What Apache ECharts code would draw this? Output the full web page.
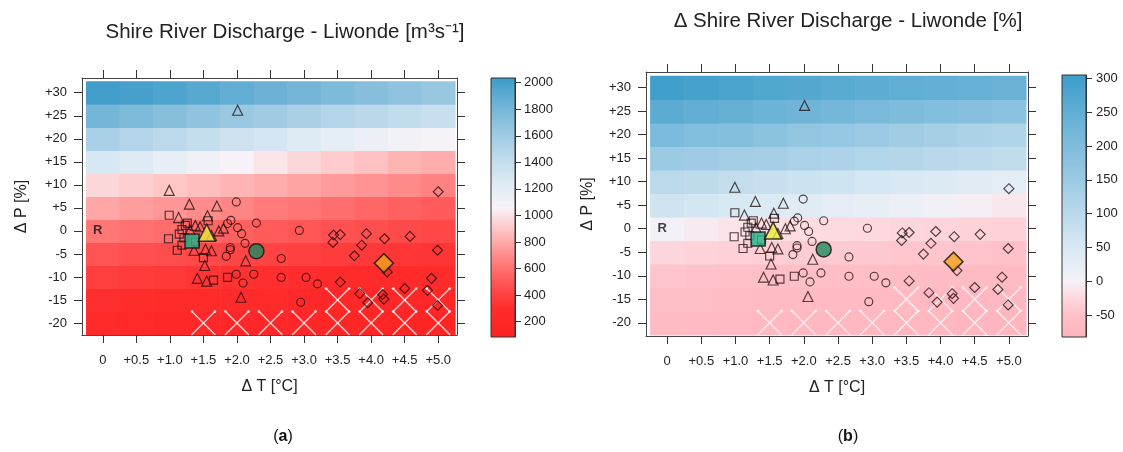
<!DOCTYPE html>
<html><head><meta charset="utf-8">
<script src="https://cdn.jsdelivr.net/npm/echarts@6/dist/echarts.min.js"></script>
<style>html,body{margin:0;padding:0;background:#fff}#c{width:1123px;height:452px}</style>
</head><body><div id="c"></div>
<script>
// ---------- axes / categories ----------
const tSteps = [0, 0.5, 1, 1.5, 2, 2.5, 3, 3.5, 4, 4.5, 5];
const pSteps = [-20, -15, -10, -5, 0, 5, 10, 15, 20, 25, 30];
const xTickLabels = ['0', '+0.5', '+1.0', '+1.5', '+2.0', '+2.5', '+3.0', '+3.5', '+4.0', '+4.5', '+5.0'];
const yTickLabels = ['-20', '-15', '-10', '-5', '0', '+5', '+10', '+15', '+20', '+25', '+30'];
const cbarTicksA = [200, 400, 600, 800, 1000, 1200, 1400, 1600, 1800, 2000];
const cbarTicksB = [-50, 0, 50, 100, 150, 200, 250, 300];

// ---------- panel (a): discharge [m3/s], one array per ΔP row, columns = ΔT ----------
const qA_p30 = [2010, 1990, 1960, 1920, 1880, 1840, 1800, 1760, 1720, 1680, 1640];
const qA_p25 = [1800, 1760, 1720, 1680, 1630, 1590, 1540, 1500, 1460, 1420, 1380];
const qA_p20 = [1550, 1500, 1450, 1400, 1340, 1290, 1240, 1190, 1140, 1100, 1070];
const qA_p15 = [1280, 1230, 1170, 1110, 1060, 1010, 960, 920, 880, 840, 810];
const qA_p10 = [960, 930, 900, 870, 840, 810, 780, 750, 720, 690, 660];
const qA_p05 = [790, 760, 730, 700, 670, 640, 615, 590, 565, 540, 520];
const qA_0   = [620, 600, 580, 560, 540, 520, 500, 480, 460, 445, 430];
const qA_m05 = [490, 470, 455, 440, 425, 410, 395, 380, 365, 350, 340];
const qA_m10 = [390, 375, 360, 345, 330, 320, 310, 300, 290, 280, 270];
const qA_m15 = [320, 305, 290, 280, 270, 260, 250, 240, 230, 220, 210];
const qA_m20 = [265, 250, 240, 230, 220, 210, 200, 190, 180, 175, 170];

// ---------- panel (b): change in discharge [%] ----------
const qB_p30 = [295, 288, 281, 274, 268, 262, 256, 250, 245, 240, 236];
const qB_p25 = [258, 250, 242, 234, 226, 218, 210, 202, 194, 186, 178];
const qB_p20 = [205, 196, 187, 178, 169, 160, 151, 142, 133, 124, 116];
const qB_p15 = [150, 144, 138, 132, 126, 120, 114, 108, 102, 96, 90];
const qB_p10 = [100, 93, 86, 79, 72, 65, 58, 51, 44, 37, 30];
const qB_p05 = [66, 59, 52, 45, 37, 29, 21, 13, 6, -2, -9];
const qB_0   = [3, -6, -13, -17, -20, -22, -24, -26, -28, -30, -32];
const qB_m05 = [-27, -30, -33, -35, -37, -39, -41, -43, -45, -47, -49];
const qB_m10 = [-46, -48, -50, -52, -54, -56, -58, -59, -61, -62, -63];
const qB_m15 = [-56, -58, -60, -62, -64, -65, -67, -68, -69, -70, -71];
const qB_m20 = [-63, -65, -67, -68, -70, -71, -72, -73, -74, -75, -76];

// hatched (crossed) cells [ΔT, ΔP]
const hatchCells = [[1.5,-20],[2.0,-20],[2.5,-20],[3.0,-20],[3.5,-20],[4.0,-20],[4.5,-20],[5.0,-20],
                    [3.5,-15],[4.0,-15],[4.5,-15],[5.0,-15]];

// ---------- scenario points [ΔT, ΔP] ----------
const squares = [[0.99,3.4],[1.23,1.2],[1.26,1.7],[1.18,0.3],[1.14,-0.7],[0.98,-1.7],[1.11,-4.2],[1.18,-3.1],
                 [1.21,-1.5],[1.38,-2.4],[1.50,-5.8],[1.57,2.2],[1.65,-10.7],[1.86,-10.1]];
const triangles = [[2.01,26.2],[0.99,8.8],[1.29,5.8],[1.70,5.4],[1.13,2.9],[1.56,3.3],[1.38,1.2],[1.45,0.9],
                   [1.30,0.2],[1.62,-1.0],[1.73,0.0],[1.80,0.6],[1.36,-4.2],[1.53,-4.0],[1.62,-4.3],
                   [1.52,-7.5],[1.41,-10.3],[1.55,-10.9],[2.13,-6.5],[2.06,-14.4]];
const circles = [[1.99,6.3],[2.29,1.7],[1.91,2.3],[1.86,1.6],[2.01,0.7],[2.07,-0.6],[2.12,-2.7],
                 [1.90,-3.6],[1.90,-4.1],[1.84,-5.5],[2.66,-6.0],[1.99,-9.4],[2.09,-11.3],[2.25,-9.4],
                 [2.66,-10.1],[3.03,-10.1],[3.20,-11.5],[2.93,0.1],[2.95,-15.5]];
const diamonds = [[5.0,8.5],[3.44,-0.9],[3.54,-0.8],[3.43,-2.5],[3.93,-0.6],[4.20,-1.7],[4.58,-1.2],
                  [3.86,-3.1],[3.75,-5.4],[4.99,-4.2],[4.24,-8.9],[3.54,-11.1],[4.90,-10.3],[4.50,-12.5],
                  [4.84,-12.9],[3.83,-13.6],[4.17,-13.8],[4.19,-14.8],[3.95,-15.6],[4.99,-16.2]];
const meanSquare = [[1.33,-2.2]];
const meanTriangle = [[1.55,-0.4]];
const meanCircle = [[2.29,-4.4]];
const meanDiamond = [[4.19,-7.0]];
const refPoint = [[0,0]];

// ---------- styling ----------
const FONT = 'Liberation Sans, Arial, Helvetica, sans-serif';
const stopsA = [[85,'#FF2222'],[300,'#FF2B2B'],[500,'#FF5656'],[700,'#FF8C8C'],[900,'#FFC6C6'],
                [1060,'#F7F3F8'],[1250,'#DCEAF4'],[1450,'#BCD9EB'],[1650,'#96C6E0'],[1850,'#6AB1D5'],[2035,'#3A9BC8']];
const stopsB = [[-82.5,'#FFB3BD'],[-50,'#FFC0C8'],[-20,'#FDDCE2'],[0,'#F4F1F7'],[50,'#D9E9F3'],
                [100,'#BAD9EB'],[150,'#9BCAE3'],[200,'#7FBCDC'],[250,'#61AED4'],[305,'#3A9DC9']];
const rangeA = [85, 2035], rangeB = [-82.5, 305];

function hex(h){return [parseInt(h.slice(1,3),16),parseInt(h.slice(3,5),16),parseInt(h.slice(5,7),16)];}
function colorAt(stops, v){
  if (v <= stops[0][0]) return stops[0][1];
  for (let i = 1; i < stops.length; i++) {
    if (v <= stops[i][0]) {
      const f = (v - stops[i-1][0]) / (stops[i][0] - stops[i-1][0]);
      const a = hex(stops[i-1][1]), b = hex(stops[i][1]);
      return 'rgb(' + a.map((c,k)=>Math.round(c + (b[k]-c)*f)).join(',') + ')';
    }
  }
  return stops[stops.length-1][1];
}
function colorList(stops, r){ const out=[]; const n=120; for(let i=0;i<n;i++){out.push(colorAt(stops, r[0]+(r[1]-r[0])*i/(n-1)));} return out; }
function gradient(stops, r){
  return new echarts.graphic.LinearGradient(0,1,0,0, stops.map(s=>({offset:(s[0]-r[0])/(r[1]-r[0]), color:s[1]})));
}

function cellData(rows){
  const out=[];
  rows.forEach((row,i)=>row.forEach((v,j)=>out.push([tSteps[j], pSteps[i], v])));
  return out;
}
const cellsA = cellData([qA_m20,qA_m15,qA_m10,qA_m05,qA_0,qA_p05,qA_p10,qA_p15,qA_p20,qA_p25,qA_p30]);
const cellsB = cellData([qB_m20,qB_m15,qB_m10,qB_m05,qB_0,qB_p05,qB_p10,qB_p15,qB_p20,qB_p25,qB_p30]);

function cellItem(params, api){
  const t=api.value(0), p=api.value(1);
  const a=api.coord([t-0.25, p+2.5]), b=api.coord([t+0.25, p-2.5]);
  return {type:'rect', shape:{x:a[0], y:a[1], width:b[0]-a[0]+0.6, height:b[1]-a[1]+0.6},
          style:{fill: api.visual('color')}};
}
// square 45-degree cross centred in the cell, as tall as the cell
function hatchItem(params, api){
  const t=api.value(0), p=api.value(1);
  const c=api.coord([t, p]);
  const h=(api.coord([t, p-2.5])[1]-api.coord([t, p+2.5])[1])/2;
  const st={stroke:'rgba(255,255,255,0.8)', lineWidth:1.3, lineCap:'round'};
  const dot={fill:'rgba(255,255,255,0.85)'};
  return {type:'group', children:[
    {type:'line', shape:{x1:c[0]-h,y1:c[1]-h,x2:c[0]+h,y2:c[1]+h}, style:st},
    {type:'line', shape:{x1:c[0]+h,y1:c[1]-h,x2:c[0]-h,y2:c[1]+h}, style:st},
    {type:'circle', shape:{cx:c[0]-h, cy:c[1]-h, r:1.3}, style:dot},
    {type:'circle', shape:{cx:c[0]+h, cy:c[1]-h, r:1.3}, style:dot}
  ]};
}
function cbarItem(stops, r){
  return function(params, api){
    const cs=params.coordSys;
    return {type:'rect', shape:{x:cs.x, y:cs.y, width:cs.width, height:cs.height},
            style:{fill: gradient(stops, r), stroke:'#333', lineWidth:1}};
  };
}

const hollow = {color:'rgba(0,0,0,0)', borderColor:'rgba(30,10,10,0.95)', borderWidth:1.15};
function panelSeries(xi, yi, cells){
  const base = {xAxisIndex:xi, yAxisIndex:yi};
  const sc = (data, symbol, size, style, z) => Object.assign({type:'scatter', data, symbol, symbolSize:size,
      itemStyle:style, z:z, silent:true, clip:false}, base);
  return [
    Object.assign({type:'custom', data:cells, renderItem:cellItem, encode:{x:0,y:1}, z:1, silent:true}, base),
    Object.assign({type:'custom', data:hatchCells, renderItem:hatchItem, encode:{x:0,y:1}, z:2, silent:true}, base),
    sc(squares, 'rect', 8, hollow, 3),
    sc(triangles, 'triangle', 10, hollow, 3),
    sc(circles, 'circle', 8, hollow, 3),
    sc(diamonds, 'diamond', 10, hollow, 3),
    sc(meanSquare, 'rect', 14, {color:'#22B48A', borderColor:'#111', borderWidth:1.5}, 4),
    sc(meanTriangle, 'triangle', 17, {color:'#EAEA3A', borderColor:'#111', borderWidth:1.5}, 4),
    sc(meanCircle, 'circle', 15, {color:'#1D8C5C', borderColor:'#111', borderWidth:1.5}, 4),
    sc(meanDiamond, 'diamond', 19, {color:'#F5A21B', borderColor:'#111', borderWidth:1.5}, 4),
    Object.assign({type:'scatter', data:refPoint, symbolSize:0, z:5, silent:true,
      label:{show:true, formatter:'R', position:'inside', offset:[-5,0], fontWeight:'bold', fontSize:13, color:'#111', fontFamily:FONT}}, base)
  ];
}

const seriesA = panelSeries(0, 0, cellsA);
const seriesB = panelSeries(2, 2, cellsB);
const series = seriesA.concat(seriesB).concat([
  {type:'custom', xAxisIndex:4, yAxisIndex:4, data:[[0.5, 1000]], renderItem:cbarItem(stopsA, rangeA), silent:true},
  {type:'custom', xAxisIndex:5, yAxisIndex:5, data:[[0.5, 100]], renderItem:cbarItem(stopsB, rangeB), silent:true}
]);

const tickStyle = {color:'#333', width:1};
const frameLine = {show:true, onZero:false, lineStyle:{color:'#444', width:1}};
const lbl = {fontSize:13, color:'#222', fontFamily:FONT};
function xAxes(grid){
  const common = {type:'value', gridIndex:grid, min:-0.31, max:5.28, splitLine:{show:false}, axisLine:frameLine};
  return [
    Object.assign({}, common, {position:'bottom',
      axisTick:{show:true, customValues:tSteps, length:8, lineStyle:tickStyle},
      axisLabel:Object.assign({show:true, customValues:tSteps, margin:19,
        formatter:v=>xTickLabels[tSteps.indexOf(Math.round(v*2)/2)]}, lbl),
      name:'\u0394 T [\u00B0C]', nameLocation:'middle', nameGap:44,
      nameTextStyle:{fontSize:16, color:'#222', fontFamily:FONT}}),
    Object.assign({}, common, {position:'top',
      axisTick:{show:true, customValues:tSteps, length:8, lineStyle:tickStyle},
      axisLabel:{show:false}})
  ];
}
function yAxes(grid, min, max, gap){
  const common = {type:'value', gridIndex:grid, min:min, max:max, splitLine:{show:false}, axisLine:frameLine};
  return [
    Object.assign({}, common, {position:'left',
      axisTick:{show:true, customValues:pSteps, length:8, lineStyle:tickStyle},
      axisLabel:Object.assign({show:true, customValues:pSteps, margin:15,
        formatter:v=>yTickLabels[pSteps.indexOf(Math.round(v))]}, lbl),
      name:'\u0394 P [%]', nameLocation:'middle', nameGap:gap, nameRotate:90,
      nameTextStyle:{fontSize:16, color:'#222', fontFamily:FONT}}),
    Object.assign({}, common, {position:'right',
      axisTick:{show:true, customValues:pSteps, length:8, lineStyle:tickStyle},
      axisLabel:{show:false}})
  ];
}
function cbarAxes(grid, r, ticks, margin){
  return {
    x:{type:'value', gridIndex:grid, min:0, max:1, show:false},
    y:{type:'value', gridIndex:grid, min:r[0], max:r[1], position:'right', splitLine:{show:false},
       axisLine:{show:true, onZero:false, lineStyle:{color:'#333', width:1}},
       axisTick:{show:true, customValues:ticks, length:6, lineStyle:tickStyle},
       axisLabel:Object.assign({show:true, customValues:ticks, margin:margin, formatter:v=>String(Math.round(v))}, lbl)}
  };
}
const cA = cbarAxes(2, rangeA, cbarTicksA, 9), cB = cbarAxes(3, rangeB, cbarTicksB, 10);

const option = {
  animation:false,
  backgroundColor:'#fff',
  grid:[
    {left:82, top:78, width:375, height:257, show:false},
    {left:646, top:72, width:382, height:264, show:false},
    {left:491, top:78, width:24, height:259, show:false},
    {left:1062, top:75, width:24, height:262, show:false}
  ],
  xAxis: xAxes(0).concat(xAxes(1)).concat([cA.x, cB.x]),
  yAxis: yAxes(0, -22.6, 33.2, 52).concat(yAxes(1, -22.8, 33.3, 50)).concat([cA.y, cB.y]),
  visualMap:[
    {type:'continuous', show:false, seriesIndex:0, dimension:2, min:rangeA[0], max:rangeA[1], inRange:{color:colorList(stopsA, rangeA)}},
    {type:'continuous', show:false, seriesIndex:seriesA.length, dimension:2, min:rangeB[0], max:rangeB[1], inRange:{color:colorList(stopsB, rangeB)}}
  ],
  graphic:[
    {type:'text', x:285, y:32, style:{text:'Shire River Discharge - Liwonde [m\u00B3s\u207B\u00B9]', fontSize:20.5, fontFamily:FONT, fill:'#222', align:'center', verticalAlign:'middle'}},
    {type:'text', x:848, y:21, style:{text:'\u0394 Shire River Discharge - Liwonde [%]', fontSize:20.5, fontFamily:FONT, fill:'#222', align:'center', verticalAlign:'middle'}},
    {type:'text', x:283, y:437, style:{text:'({b|a})', rich:{b:{fontWeight:'bold', fontSize:16, fontFamily:FONT, fill:'#111'}}, fontSize:16, fontFamily:FONT, fill:'#111', align:'center', verticalAlign:'middle'}},
    {type:'text', x:848, y:437, style:{text:'({b|b})', rich:{b:{fontWeight:'bold', fontSize:16, fontFamily:FONT, fill:'#111'}}, fontSize:16, fontFamily:FONT, fill:'#111', align:'center', verticalAlign:'middle'}}
  ],
  series: series
};
const chart = echarts.init(document.getElementById('c'), null, {renderer:'canvas'});
chart.setOption(option);
</script></body></html>
